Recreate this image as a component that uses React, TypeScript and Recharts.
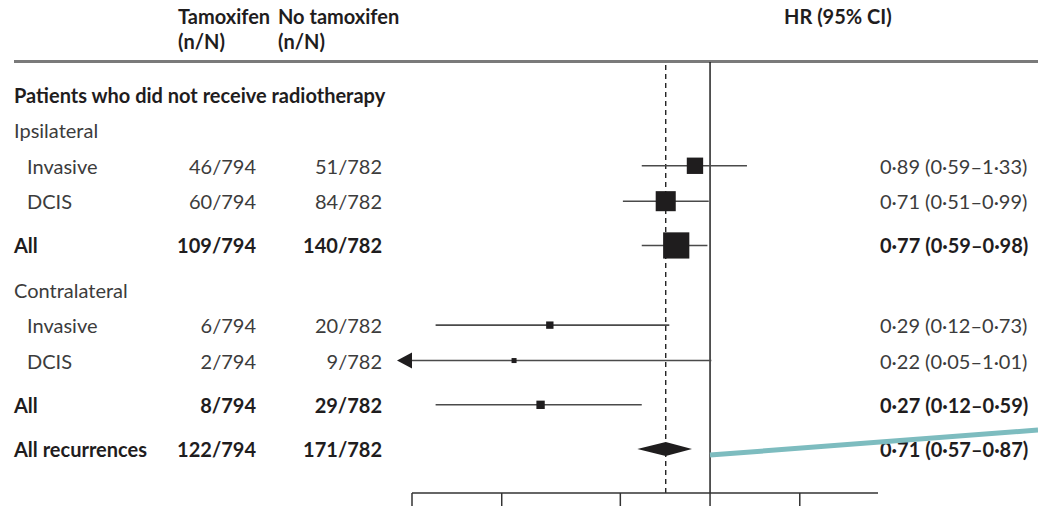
import React from 'react';
import { ComposedChart, Scatter, XAxis, YAxis, ReferenceLine } from 'recharts';

// one entry per table row, top to bottom
const rowLabels = [
  'Patients who did not receive radiotherapy',
  'Ipsilateral', 'Invasive', 'DCIS', 'All',
  'Contralateral', 'Invasive', 'DCIS', 'All',
  'All recurrences',
];
const rowKinds = ['title', 'section', 'item', 'item', 'subtotal', 'section', 'item', 'item', 'subtotal', 'total'];
const tamoxifen = ['', '', '46/794', '60/794', '109/794', '', '6/794', '2/794', '8/794', '122/794'];
const noTamoxifen = ['', '', '51/782', '84/782', '140/782', '', '20/782', '9/782', '29/782', '171/782'];
const hr = [null, null, 0.89, 0.71, 0.77, null, 0.29, 0.22, 0.27, 0.71];
const ciLow = [null, null, 0.59, 0.51, 0.59, null, 0.12, 0.05, 0.12, 0.57];
const ciHigh = [null, null, 1.33, 0.99, 0.98, null, 0.73, 1.01, 0.59, 0.87];
const xTicks = [0.1, 0.2, 0.5, 1, 2];

const X_MIN = 0.1;
const X_MAX = 3.66;
const FONT = 'Lato, "Open Sans", sans-serif';
const FS = 20;
const INK = '#1f1d1e';
const GREY = '#3c3c3c';

// vertical slot of each row; summary rows get a bit of extra room
const rowPos: number[] = [];
rowKinds.forEach((k, i) => {
  if (i === 0) { rowPos.push(0); return; }
  let p = rowPos[i - 1] + 1;
  if (k === 'subtotal' || k === 'total') p += 0.25;
  if (k === 'section' && rowKinds[i - 1] === 'subtotal') p += 0.25;
  rowPos.push(p);
});

const fmt = (v: number) => v.toFixed(2).replace('.', '·');
const isBold = (k: string) => k === 'title' || k === 'subtotal' || k === 'total';

const points = rowKinds
  .map((k, i) => ({ k, i }))
  .filter(({ k, i }) => hr[i] != null && k !== 'total')
  .map(({ i }) => ({
    x: hr[i] as number,
    y: rowPos[i],
    box: Math.max(5, 13.3 / Math.log((ciHigh[i] as number) / (ciLow[i] as number))),
  }));

const overall = rowKinds.indexOf('total');

const Box = (props: any) => {
  const { cx, cy, payload } = props;
  const s = payload.box;
  return <rect x={cx - s / 2} y={cy - s / 2} width={s} height={s} fill={INK} />;
};

const CiLine = (props: any) => {
  const { x1, y1, x2, y2, truncated } = props;
  return (
    <g>
      <line x1={x1} y1={y1} x2={x2} y2={y2} stroke="#4a4a4a" strokeWidth={1.6} />
      {truncated && (
        <polygon points={`${x1 - 15},${y1} ${x1},${y1 - 8} ${x1},${y1 + 8}`} fill={INK} />
      )}
    </g>
  );
};

const Diamond = (props: any) => {
  const { x1, y1, x2 } = props;
  const lo = ciLow[overall] as number;
  const hi = ciHigh[overall] as number;
  const est = hr[overall] as number;
  const xm = x1 + ((x2 - x1) * Math.log(est / lo)) / Math.log(hi / lo);
  return <polygon points={`${x1},${y1} ${xm},${y1 - 7} ${x2},${y1} ${xm},${y1 + 7}`} fill={INK} />;
};

const rowAt = (v: number) => rowPos.findIndex((p) => Math.abs(p - v) < 1e-6);

// whole table row: label, both count columns and the HR column on the right
const RowTick = (props: any) => {
  const { y, payload } = props;
  const i = rowAt(payload.value);
  if (i < 0) return null;
  const k = rowKinds[i];
  const w = isBold(k) ? 700 : 400;
  const c = isBold(k) ? INK : GREY;
  return (
    <g fontFamily={FONT} fontSize={FS} fontWeight={w} fill={c}>
      <text x={k === 'item' ? 27 : 14} y={y} dominantBaseline="central">{rowLabels[i]}</text>
      <text x={256} y={y} textAnchor="end" dominantBaseline="central">{tamoxifen[i]}</text>
      <text x={382} y={y} textAnchor="end" dominantBaseline="central">{noTamoxifen[i]}</text>
      {hr[i] != null && (
        <text x={880} y={y} dominantBaseline="central">
          {`${fmt(hr[i] as number)} (${fmt(ciLow[i] as number)}–${fmt(ciHigh[i] as number)})`}
        </text>
      )}
    </g>
  );
};

const head: React.CSSProperties = {
  position: 'absolute', fontFamily: FONT, fontSize: FS, fontWeight: 700, color: INK, lineHeight: '25px',
};

export default function App() {
  const yDomain = [-0.93, rowPos[rowPos.length - 1] + 1.24];
  return (
    <div style={{ position: 'absolute', left: 0, top: 0, width: 1038, height: 506, background: '#fff' }}>
      <div style={{ ...head, left: 178, top: 4 }}>Tamoxifen<br />(n/N)</div>
      <div style={{ ...head, left: 278, top: 4 }}>No tamoxifen<br />(n/N)</div>
      <div style={{ ...head, left: 784, top: 4 }}>HR (95% CI)</div>
      <div style={{ position: 'absolute', left: 14, right: 0, top: 60, height: 3, background: '#7a7a7a' }} />

      <ComposedChart width={1038} height={506} margin={{ top: 62, right: 160, bottom: 0, left: 0 }}>
        <XAxis
          type="number" dataKey="x" scale="log" domain={[X_MIN, X_MAX]} allowDataOverflow
          ticks={xTicks} tickFormatter={() => ''} tickSize={13} height={13}
          stroke="#333" strokeWidth={1.5}
        />
        <YAxis
          type="number" dataKey="y" domain={yDomain} reversed width={412}
          ticks={rowPos} interval={0} axisLine={false} tickLine={false} tick={<RowTick />}
        />
        <ReferenceLine x={1} stroke="#222" strokeWidth={1.5} />
        <ReferenceLine x={hr[overall] as number} stroke="#222" strokeWidth={1.4} strokeDasharray="5 4" />
        {rowKinds.map((k, i) => {
          if (hr[i] == null || k === 'total') return null;
          const lo = ciLow[i] as number;
          const truncated = lo < X_MIN;
          return (
            <ReferenceLine
              key={i}
              segment={[{ x: truncated ? X_MIN : lo, y: rowPos[i] }, { x: ciHigh[i] as number, y: rowPos[i] }]}
              shape={(p: any) => <CiLine {...p} truncated={truncated} />}
            />
          );
        })}
        <ReferenceLine
          segment={[{ x: ciLow[overall] as number, y: rowPos[overall] }, { x: ciHigh[overall] as number, y: rowPos[overall] }]}
          shape={(p: any) => <Diamond {...p} />}
        />
        <Scatter data={points} shape={<Box />} isAnimationActive={false} />
      </ComposedChart>

      <svg width={1038} height={506} style={{ position: 'absolute', left: 0, top: 0, pointerEvents: 'none' }}>
        <line x1={710} y1={455} x2={1038} y2={430} stroke="#7dbcbf" strokeWidth={5} />
      </svg>
    </div>
  );
}
